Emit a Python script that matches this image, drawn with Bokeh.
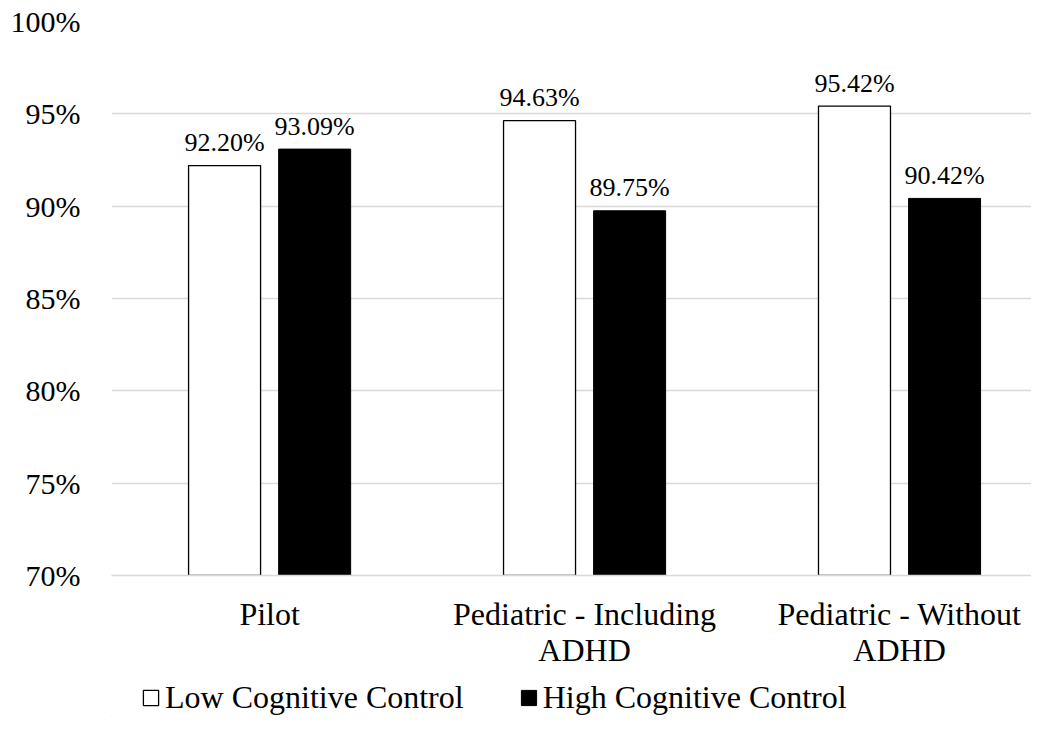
from bokeh.plotting import figure
from bokeh.layouts import column
from bokeh.models import (ColumnDataSource, FixedTicker, PrintfTickFormatter,
                          Legend, LegendItem, Range1d)
from bokeh.transform import dodge
from bokeh.core.properties import value
from bokeh.embed import file_html
from bokeh.resources import INLINE

# ---- data ----
categories = ["Pilot", "Pediatric - Including\nADHD", "Pediatric - Without\nADHD"]
low_control = [92.20, 94.63, 95.42]
high_control = [93.09, 89.75, 90.42]
series_names = ["Low Cognitive Control", "High Cognitive Control"]
y_ticks = [70, 75, 80, 85, 90, 95, 100]

FONT = "Liberation Serif"
xs = [1, 2, 3]
src = ColumnDataSource(dict(
    x=xs,
    low=low_control,
    high=high_control,
    low_lbl=["{:.2f}%".format(v) for v in low_control],
    high_lbl=["{:.2f}%".format(v) for v in high_control],
))

W = 1031
H_MAIN = 680
H_LEG = 36
LEFT = 111

p = figure(width=W, height=H_MAIN, output_backend="svg", toolbar_location=None,
           x_range=Range1d(0.498, 3.419), y_range=Range1d(70, 100),
           min_border_left=LEFT, min_border_right=0, min_border_top=21,
           min_border_bottom=H_MAIN - 575)
p.outline_line_color = None
p.background_fill_color = "white"
p.border_fill_color = "white"

bw = 0.2286
off = 0.143
low_style = dict(fill_color="white", line_color="black", line_width=1.3)
high_style = dict(fill_color="black", line_color="black", line_width=1)
p.vbar(x=dodge("x", -off), top="low", bottom=70, width=bw, source=src, **low_style)
p.vbar(x=dodge("x", off), top="high", bottom=70, width=bw, source=src, **high_style)

p.text(x=dodge("x", -off), y="low", text="low_lbl", source=src,
       text_align="center", text_baseline="alphabetic", y_offset=-23,
       text_font=value(FONT), text_font_size="26px", text_color="#000000")
p.text(x=dodge("x", off), y="high", text="high_lbl", source=src,
       text_align="center", text_baseline="alphabetic", y_offset=-23,
       text_font=value(FONT), text_font_size="26px", text_color="#000000")

# grid
p.xgrid.grid_line_color = None
p.ygrid.grid_line_color = "#d9d9d9"
p.ygrid.grid_line_width = 1.5
p.ygrid.ticker = FixedTicker(ticks=y_ticks)

# y axis
p.yaxis.ticker = FixedTicker(ticks=y_ticks)
p.yaxis.formatter = PrintfTickFormatter(format="%d%%")
p.yaxis.axis_line_color = None
p.yaxis.major_tick_line_color = None
p.yaxis.minor_tick_line_color = None
p.yaxis.major_tick_out = 0
p.yaxis.major_tick_in = 0
p.yaxis.major_label_standoff = 31
p.yaxis.major_label_text_font = FONT
p.yaxis.major_label_text_font_size = "30px"
p.yaxis.major_label_text_color = "#000000"

# x axis
p.xaxis.ticker = FixedTicker(ticks=xs)
p.xaxis.major_label_overrides = {x: c for x, c in zip(xs, categories)}
p.xaxis.axis_line_color = "#d9d9d9"
p.xaxis.axis_line_width = 1.5
p.xaxis.major_tick_line_color = None
p.xaxis.minor_tick_line_color = None
p.xaxis.major_tick_out = 0
p.xaxis.major_tick_in = 0
p.xaxis.major_label_standoff = 20
p.xaxis.major_label_text_font = FONT
p.xaxis.major_label_text_font_size = "32px"
p.xaxis.major_label_text_line_height = 1.0
p.xaxis.major_label_text_color = "#000000"

# ---- legend strip (separate small figure below) ----
lg = figure(width=W, height=H_LEG, output_backend="svg", toolbar_location=None,
            x_range=Range1d(0, 1), y_range=Range1d(0, 1),
            x_axis_type=None, y_axis_type=None,
            min_border_left=LEFT, min_border_right=0, min_border_top=0,
            min_border_bottom=0)
lg.outline_line_color = None
lg.border_fill_color = "white"
lg.xgrid.grid_line_color = None
lg.ygrid.grid_line_color = None
# off-screen bars: only their legend swatches are seen
hidden = ColumnDataSource(dict(x=[-5.0], top=[-5.0]))
r_low = lg.vbar(x="x", top="top", bottom=-6, width=0.1, source=hidden, **low_style)
r_high = lg.vbar(x="x", top="top", bottom=-6, width=0.1, source=hidden, **high_style)

legend = Legend(items=[LegendItem(label=series_names[0], renderers=[r_low]),
                       LegendItem(label=series_names[1], renderers=[r_high])],
                orientation="horizontal", location=(30, 0),
                margin=0, padding=0, spacing=55, label_standoff=5,
                glyph_width=19, glyph_height=19,
                border_line_color=None, background_fill_alpha=0,
                label_text_font=FONT, label_text_font_size="32px",
                label_text_color="#000000")
lg.add_layout(legend, "center")

layout = column(p, lg, spacing=0)
open("out.html", "w").write(file_html(layout, INLINE))
